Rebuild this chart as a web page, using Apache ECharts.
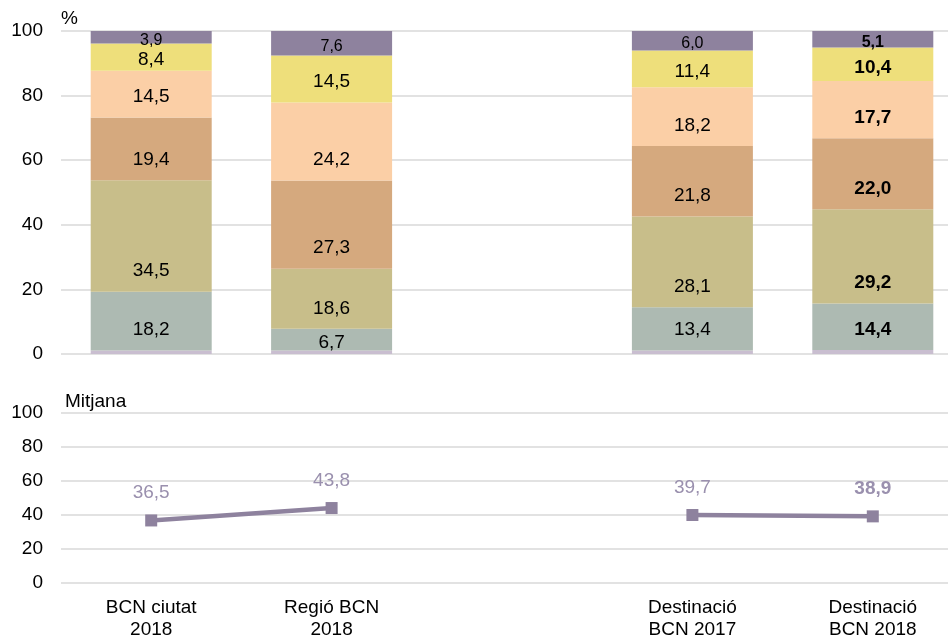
<!DOCTYPE html>
<html>
<head>
<meta charset="utf-8">
<script src="https://cdn.jsdelivr.net/npm/echarts@6/dist/echarts.min.js"></script>
<style>
html,body{margin:0;padding:0;background:#fff;overflow:hidden;width:948px;height:641px;}
#c{width:963px;height:641px;}
</style>
</head>
<body>
<div id="c"></div>
<script>
var categories = ['BCN ciutat\n2018', 'Regió BCN\n2018', '', 'Destinació\nBCN 2017', 'Destinació\nBCN 2018'];
var seg0 = [1.1, 1.1, null, 1.1, 1.2];
var seg1 = [18.2, 6.7, null, 13.4, 14.4];
var seg2 = [34.5, 18.6, null, 28.1, 29.2];
var seg3 = [19.4, 27.3, null, 21.8, 22.0];
var seg4 = [14.5, 24.2, null, 18.2, 17.7];
var seg5 = [8.4, 14.5, null, 11.4, 10.4];
var seg6 = [3.9, 7.6, null, 6.0, 5.1];
var mitjana = [36.5, 43.8, null, 39.7, 38.9];
var yTicks = [0, 20, 40, 60, 80, 100];
var boldIndex = 4;

var colors = ['#C9BED0', '#ADBAB2', '#C8BE8A', '#D5A97E', '#FBCFA6', '#EEDF7B', '#8E829E'];
var FONT = '"Liberation Sans", Arial, sans-serif';

function fmt(v) { return v == null ? '' : v.toFixed(1).replace('.', ','); }

function mkBarData(arr, fontSize) {
  return arr.map(function (v, i) {
    var tall = v != null && v >= 13;
    return {
      value: v,
      label: {
        fontWeight: i === boldIndex ? 'bold' : 'normal',
        fontSize: fontSize,
        position: tall ? 'insideBottom' : 'inside',
        distance: 11,
        offset: tall ? [0, 0] : [0, 3]
      }
    };
  });
}

function mkLineData(arr) {
  return arr.map(function (v, i) {
    return { value: v, label: { fontWeight: i === boldIndex ? 'bold' : 'normal' } };
  });
}

var segs = [seg0, seg1, seg2, seg3, seg4, seg5, seg6];
var series = segs.map(function (arr, k) {
  return {
    type: 'bar',
    stack: 'total',
    xAxisIndex: 0,
    yAxisIndex: 0,
    barWidth: 121,
    itemStyle: { color: colors[k] },
    label: {
      show: k > 0,
      color: '#000',
      fontFamily: FONT,
      formatter: function (p) { return fmt(p.value); }
    },
    data: mkBarData(arr, k === 6 ? 16 : 19)
  };
});

series.push({
  type: 'line',
  xAxisIndex: 1,
  yAxisIndex: 1,
  data: mkLineData(mitjana),
  connectNulls: false,
  symbol: 'rect',
  symbolSize: 12,
  lineStyle: { color: '#8E829E', width: 4.5 },
  itemStyle: { color: '#8E829E' },
  label: {
    show: true,
    position: 'top',
    distance: 12,
    fontSize: 19,
    color: '#9A90AE',
    fontFamily: FONT,
    formatter: function (p) { return fmt(p.value); }
  }
});

var yAxisCommon = {
  type: 'value',
  min: 0,
  max: 100,
  interval: 20,
  axisLine: { show: false },
  axisTick: { show: false },
  axisLabel: {
    color: '#000',
    fontSize: 19,
    fontFamily: FONT,
    margin: 18,
    formatter: function (v) { return yTicks.indexOf(v) >= 0 ? String(v) : ''; }
  },
  splitLine: { lineStyle: { color: '#D9D9D9', width: 1.5 } }
};

var chart = echarts.init(document.getElementById('c'));
chart.setOption({
  animation: false,
  backgroundColor: '#fff',
  grid: [
    { left: 61, top: 31, right: 0, height: 323 },
    { left: 61, top: 412.5, right: 0, height: 170 }
  ],
  xAxis: [
    {
      type: 'category', gridIndex: 0, data: categories,
      axisLine: { show: false }, axisTick: { show: false }, axisLabel: { show: false }
    },
    {
      type: 'category', gridIndex: 1, data: categories,
      axisLine: { show: false }, axisTick: { show: false },
      axisLabel: { color: '#000', fontSize: 19, fontFamily: FONT, lineHeight: 22, margin: 14, interval: 0 }
    }
  ],
  yAxis: [
    Object.assign({}, yAxisCommon, {
      gridIndex: 0, name: '%', nameLocation: 'end', nameGap: 12,
      nameTextStyle: { color: '#000', fontSize: 19, fontFamily: FONT, align: 'left', verticalAlign: 'middle' }
    }),
    Object.assign({}, yAxisCommon, {
      gridIndex: 1, name: 'Mitjana', nameLocation: 'end', nameGap: 11,
      nameTextStyle: { color: '#000', fontSize: 19, fontFamily: FONT, align: 'left', verticalAlign: 'middle', padding: [0, 0, 0, 4] }
    })
  ],
  series: series
});
</script>
</body>
</html>
